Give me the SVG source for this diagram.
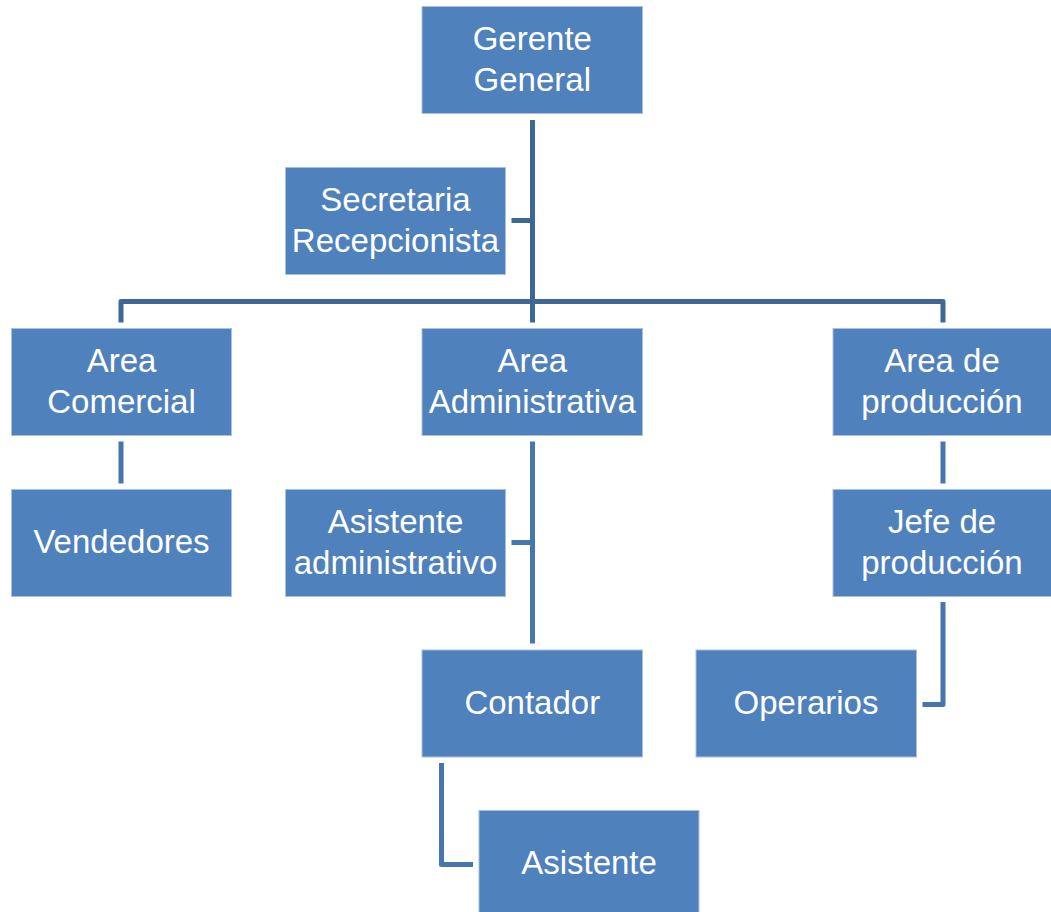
<svg xmlns="http://www.w3.org/2000/svg" width="1051" height="912" viewBox="0 0 1051 912">
<style>
.box{fill:#4f81bd;stroke:#a9c0de;stroke-width:1}
.t{fill:#ffffff;font-family:"Liberation Sans",Arial,sans-serif;font-size:33px;text-anchor:middle}
.c1{fill:none;stroke:#3f6796;stroke-width:5;stroke-linejoin:round}
.c2{fill:none;stroke:#4775ae;stroke-width:5;stroke-linejoin:round}
</style>
<rect width="1051" height="912" fill="#ffffff"/>
<g id="connectors">
<path class="c1" d="M532.5 120 V322.5"/>
<path class="c1" d="M511.5 220.5 H532.5"/>
<path class="c1" d="M121 322.5 V301.5 H943 V322.5"/>
<path class="c2" d="M121 441.5 V483.5"/>
<path class="c2" d="M532.5 441.5 V643.5"/>
<path class="c2" d="M511.5 542.5 H532.5"/>
<path class="c2" d="M943 441.5 V483.5"/>
<path class="c2" d="M943 602 V704.5 H922.5"/>
<path class="c2" d="M441.5 763 V864.5 H473"/>
</g>
<g id="gerente">
<rect class="box" x="422" y="6.5" width="220.5" height="107"/>
<text class="t" x="532.3" y="50">Gerente</text>
<text class="t" x="532.3" y="91">General</text>
</g>
<g id="secretaria">
<rect class="box" x="285.5" y="167.5" width="220" height="107"/>
<text class="t" x="395.5" y="211">Secretaria</text>
<text class="t" x="395.5" y="252">Recepcionista</text>
</g>
<g id="area-comercial">
<rect class="box" x="11.5" y="328.5" width="220" height="107"/>
<text class="t" x="121.5" y="372">Area</text>
<text class="t" x="121.5" y="413">Comercial</text>
</g>
<g id="area-administrativa">
<rect class="box" x="422" y="328.5" width="220.5" height="107"/>
<text class="t" x="532.3" y="372">Area</text>
<text class="t" x="532.3" y="413">Administrativa</text>
</g>
<g id="area-produccion">
<rect class="box" x="833" y="328.5" width="220" height="107"/>
<text class="t" x="942" y="372">Area de</text>
<text class="t" x="942" y="413">producción</text>
</g>
<g id="vendedores">
<rect class="box" x="11.5" y="489.5" width="220" height="107"/>
<text class="t" x="121.5" y="553">Vendedores</text>
</g>
<g id="asistente-administrativo">
<rect class="box" x="285.5" y="489.5" width="220" height="107"/>
<text class="t" x="395.5" y="533">Asistente</text>
<text class="t" x="395.5" y="574">administrativo</text>
</g>
<g id="jefe-produccion">
<rect class="box" x="833" y="489.5" width="220" height="107"/>
<text class="t" x="942" y="533">Jefe de</text>
<text class="t" x="942" y="574">producción</text>
</g>
<g id="contador">
<rect class="box" x="422" y="650" width="220.5" height="107"/>
<text class="t" x="532.3" y="714">Contador</text>
</g>
<g id="operarios">
<rect class="box" x="696" y="650" width="220.5" height="107"/>
<text class="t" x="806" y="714">Operarios</text>
</g>
<g id="asistente">
<rect class="box" x="479" y="810.5" width="220" height="107"/>
<text class="t" x="589" y="874">Asistente</text>
</g>
</svg>
